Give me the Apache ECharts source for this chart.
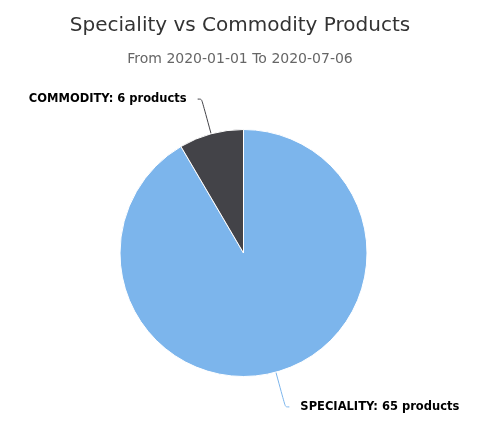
<!DOCTYPE html>
<html>
<head>
<meta charset="utf-8">
<script src="https://cdn.jsdelivr.net/npm/echarts@6/dist/echarts.min.js"></script>
<style>
  html, body { margin: 0; padding: 0; background: #fff; }
  #chart { width: 480px; height: 428px; }
</style>
</head>
<body>
<div id="chart"></div>
<script>
  // 数据
  const categories = ['SPECIALITY', 'COMMODITY']
  const productCounts = [65, 6]
  const sliceColors = ['#7cb5ec', '#434348']

  const chart = echarts.init(document.getElementById('chart'))

  const option = {
    animation: false,
    title: {
      text: 'Speciality vs Commodity Products',
      subtext: 'From 2020-01-01 To 2020-07-06',
      left: 'center',
      top: 11,
      itemGap: 16,
      textStyle: {
        fontFamily: 'DejaVu Sans',
        fontSize: 20,
        fontWeight: 'normal',
        color: '#333333'
      },
      subtextStyle: {
        fontFamily: 'DejaVu Sans',
        fontSize: 14,
        color: '#666666'
      }
    },
    series: [
      {
        type: 'pie',
        center: [243.5, 253],
        radius: 123.5,
        startAngle: 90,
        clockwise: true,
        itemStyle: {
          borderColor: '#ffffff',
          borderWidth: 1
        },
        label: {
          show: true,
          formatter: '{b}: {c} products',
          fontFamily: 'DejaVu Sans',
          fontWeight: 'bold',
          fontSize: 11.5,
          color: '#000000',
          padding: [7, 0, 0, 0],
          distanceToLabelLine: 11
        },
        labelLine: {
          show: true,
          length: 36,
          length2: 4,
          smooth: 0.3,
          lineStyle: { width: 1 }
        },
        emphasis: { disabled: true },
        data: categories.map((name, i) => ({
          name: name,
          value: productCounts[i],
          itemStyle: { color: sliceColors[i] }
        }))
      }
    ]
  }

  chart.setOption(option)
</script>
</body>
</html>
